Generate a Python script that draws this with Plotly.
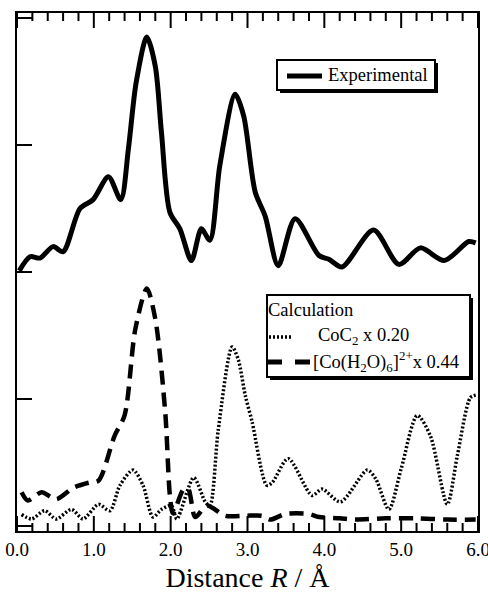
import plotly.graph_objects as go

# Experimental (offset curve)
exp_R = [0.03, 0.17, 0.30, 0.47, 0.60, 0.82, 0.99, 1.19, 1.35, 1.45, 1.55, 1.69, 1.80, 1.88, 1.99,
         2.12, 2.27, 2.40, 2.51, 2.64, 2.84, 2.95, 3.10, 3.23, 3.40, 3.62, 3.93, 4.06, 4.23, 4.64,
         4.97, 5.25, 5.56, 5.88, 5.97]
exp_v = [2.01, 2.12, 2.11, 2.20, 2.16, 2.50, 2.57, 2.75, 2.57, 2.97, 3.49, 3.85, 3.62, 3.10, 2.47,
         2.34, 2.09, 2.34, 2.25, 2.84, 3.40, 3.23, 2.63, 2.44, 2.05, 2.42, 2.13, 2.10, 2.04, 2.33,
         2.06, 2.19, 2.09, 2.24, 2.23]

# CoC2 x 0.20
coc_R = [0.06, 0.19, 0.36, 0.51, 0.71, 0.86, 1.06, 1.21, 1.34, 1.51, 1.64, 1.77, 1.88, 2.01, 2.08,
         2.30, 2.45, 2.51, 2.62, 2.80, 2.88, 2.97, 3.06, 3.25, 3.32, 3.53, 3.84, 3.97, 4.21, 4.56,
         4.67, 4.84, 5.00, 5.21, 5.38, 5.60, 5.73, 5.90, 5.97]
coc_v = [0.09, 0.055, 0.12, 0.055, 0.13, 0.055, 0.17, 0.12, 0.32, 0.44, 0.32, 0.07, 0.13, 0.16, 0.055,
         0.38, 0.19, 0.16, 0.76, 1.41, 1.31, 1.03, 0.82, 0.32, 0.34, 0.53, 0.24, 0.29, 0.19, 0.44,
         0.37, 0.13, 0.45, 0.87, 0.71, 0.17, 0.55, 1.01, 1.03]

# [Co(H2O)6]2+ x 0.44
aq_R = [0.06, 0.14, 0.32, 0.51, 0.73, 0.93, 1.06, 1.27, 1.40, 1.54, 1.69, 1.80, 1.93, 1.99, 2.03,
        2.17, 2.23, 2.32, 2.47, 2.71, 2.97, 3.19, 3.30, 3.49, 3.80, 3.93, 4.20, 4.40, 4.80, 5.20,
        5.60, 5.97]
aq_v = [0.265, 0.20, 0.265, 0.21, 0.30, 0.34, 0.356, 0.71, 0.87, 1.55, 1.87, 1.63, 0.89, 0.24, 0.10,
        0.29, 0.29, 0.07, 0.16, 0.08, 0.08, 0.08, 0.05, 0.094, 0.094, 0.07, 0.06, 0.05, 0.06, 0.06,
        0.05, 0.05]

x_ticks = [0, 1, 2, 3, 4, 5, 6]
x_labels = ["0.0", "1.0", "2.0", "3.0", "4.0", "5.0", "6.0"]
x_minor_ticks = [i / 5 for i in range(31) if i % 5 != 0]
y_ticks = [0, 1, 2, 3, 4]

FONT = "Liberation Serif"

# plot area in pixels (for placing the hand-drawn legends)
L, R_, T, B = 17, 478, 13, 531
H = B - T
def px(x):
    return (x - L) / (R_ - L)
def py(y):
    return (B - y) / (B - T)

fig = go.Figure()
fig.add_trace(go.Scatter(x=exp_R, y=exp_v, mode="lines", name="Experimental",
                         line=dict(color="black", width=5, shape="spline", smoothing=0.8)))
fig.add_trace(go.Scatter(x=coc_R, y=coc_v, mode="lines", name="CoC2 x 0.20",
                         line=dict(color="black", width=3.5, dash="2px,2px", shape="spline", smoothing=0.8)))
fig.add_trace(go.Scatter(x=aq_R, y=aq_v, mode="lines", name="[Co(H2O)6]2+ x 0.44",
                         line=dict(color="black", width=4.5, dash="14px,8px", shape="spline", smoothing=0.8)))

shapes = []
# x-axis tick marks, inside, on bottom and top (placed at axis values)
for v, ln in [(t, 15) for t in x_ticks] + [(t, 8) for t in x_minor_ticks]:
    shapes.append(dict(type="line", xref="x", yref="paper", x0=v, x1=v, y0=0, y1=ln / H,
                       line=dict(color="black", width=2)))
    shapes.append(dict(type="line", xref="x", yref="paper", x0=v, x1=v, y0=1, y1=1 - ln / H,
                       line=dict(color="black", width=2)))

def box(x0, y0, x1, y1):
    shapes.append(dict(type="rect", xref="paper", yref="paper", x0=px(x0 + 3), x1=px(x1 + 3),
                       y0=py(y1 + 3), y1=py(y0 + 3), fillcolor="black", line=dict(width=0)))
    shapes.append(dict(type="rect", xref="paper", yref="paper", x0=px(x0), x1=px(x1),
                       y0=py(y1), y1=py(y0), fillcolor="white", line=dict(color="black", width=2)))
def sample(x0, x1, y, width, dash):
    shapes.append(dict(type="line", xref="paper", yref="paper", x0=px(x0), x1=px(x1),
                       y0=py(y), y1=py(y), line=dict(color="black", width=width, dash=dash)))

box(277, 60, 435, 90)
sample(287, 322, 76, 5, "solid")
box(267, 295, 470, 377)
sample(269, 292, 337, 3.5, "2px,2px")
sample(267, 310, 362, 5, "15px,13px")

annotations = []
def label(x, y, text):
    annotations.append(dict(x=px(x), y=py(y), xref="paper", yref="paper", text=text,
                            showarrow=False, xanchor="left", yanchor="middle",
                            font=dict(family=FONT, size=18.5, color="black")))
label(326, 75, "Experimental")
label(266, 310, "Calculation")
label(316, 336, "CoC<sub>2</sub> x 0.20")
label(311, 361, "[Co(H<sub>2</sub>O)<sub>6</sub>]<sup>2+</sup>x 0.44")

fig.update_layout(
    width=488, height=596,
    margin=dict(l=L, r=488 - R_, t=T, b=596 - B, autoexpand=False),
    plot_bgcolor="white", paper_bgcolor="white",
    font=dict(family=FONT, color="black", size=19),
    showlegend=False,
    shapes=shapes,
    annotations=annotations,
    xaxis=dict(range=[0, 6], tickmode="array", tickvals=x_ticks, ticktext=x_labels,
               ticks="", showline=True, linewidth=2, linecolor="black", mirror=True,
               showgrid=False, zeroline=False,
               tickfont=dict(family=FONT, size=19), ticklabeloverflow="allow",
               title=dict(text="Distance <i>R</i> / Å", font=dict(family=FONT, size=28), standoff=9)),
    yaxis=dict(range=[-0.04, 4.04], tickmode="array", tickvals=y_ticks, showticklabels=False,
               ticks="inside", ticklen=15, tickwidth=2, tickcolor="black",
               showline=True, linewidth=2, linecolor="black", mirror=True,
               showgrid=False, zeroline=False),
)

fig.write_html("out.html", config={"displayModeBar": False, "staticPlot": True},
               post_script="document.body.style.margin='0';document.body.style.overflow='hidden';")
